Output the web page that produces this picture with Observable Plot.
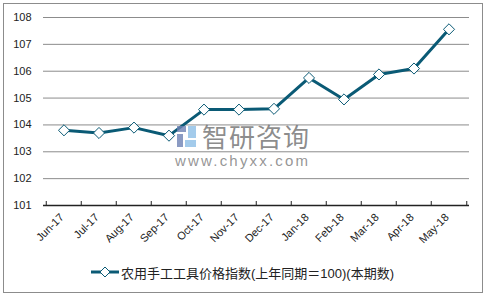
<!DOCTYPE html>
<html>
<head>
<meta charset="utf-8">
<script src="https://cdn.jsdelivr.net/npm/d3@7"></script>
<script src="https://cdn.jsdelivr.net/npm/@observablehq/plot@0.6"></script>
<style>
  html, body { margin: 0; padding: 0; background: #fff; }
  body { width: 487px; height: 297px; position: relative; overflow: hidden; font-family: "Liberation Sans", Arial, sans-serif; }
  #frame { position: absolute; left: 3px; top: 3px; width: 478px; height: 288px; border: 1px solid #8c8c8c; }
  #chart { position: absolute; left: 0; top: 0; }
  #legend { position: absolute; left: 91px; top: 263px; height: 18px; display: flex; align-items: center; font-family: "Liberation Sans", "Noto Sans CJK SC", sans-serif; font-size: 13px; color: #222; white-space: nowrap; }
  #legend svg { margin-right: 2px; }
  .wm1 { position: absolute; left: 202px; top: 123px; font-family: "Noto Sans CJK SC", sans-serif; font-size: 26px; line-height: 26px; color: rgba(120,120,120,0.85); letter-spacing: 1px; }
  .wm2 { position: absolute; left: 175px; top: 153px; font-family: "Liberation Sans", Arial, sans-serif; font-size: 15px; line-height: 15px; color: rgba(130,130,130,0.85); letter-spacing: 2.2px; }
  .logo { position: absolute; left: 177px; top: 126px; width: 20px; height: 22px; }
</style>
</head>
<body>
<div id="frame"></div>
<div id="chart"></div>
<div class="logo">
  <svg width="20" height="22"><rect x="0" y="0" width="9" height="6" fill="rgba(110,130,180,0.8)"/><rect x="11" y="0" width="8" height="12" fill="rgba(140,190,230,0.8)"/><rect x="0" y="8" width="6" height="13" fill="rgba(110,130,180,0.8)"/><rect x="8" y="14" width="11" height="7" fill="rgba(140,190,230,0.8)"/></svg>
</div>
<div class="wm1">智研咨询</div>
<div class="wm2">www.chyxx.com</div>
<div id="legend"></div>
<script>
const months = ["Jun-17","Jul-17","Aug-17","Sep-17","Oct-17","Nov-17","Dec-17","Jan-18","Feb-18","Mar-18","Apr-18","May-18"];
const values = [103.8, 103.7, 103.9, 103.6, 104.57, 104.57, 104.6, 105.75, 104.95, 105.88, 106.1, 107.56];
const yTicks = [101, 102, 103, 104, 105, 106, 107, 108];
const seriesName = "农用手工工具价格指数(上年同期＝100)(本期数)";

const lineColor = "#0a5a75";
const data = months.map((m, i) => ({month: m, value: values[i]}));

const W = 487, H = 255, mL = 43, mR = 18, mT = 17, mB = 50;
const bw = (W - mL - mR) / months.length;

const chart = Plot.plot({
  width: W,
  height: H,
  marginLeft: mL,
  marginRight: mR,
  marginTop: mT,
  marginBottom: mB,
  style: {fontFamily: "'Liberation Sans', Arial, sans-serif", fontSize: "11px", color: "#222", background: "transparent"},
  x: {type: "band", domain: months, padding: 0, label: null},
  y: {domain: [101, 108], label: null},
  marks: [
    Plot.ruleY(yTicks.filter(t => t > 101), {stroke: "#8c8c8c", strokeWidth: 1}),
    Plot.axisY(yTicks, {tickSize: 0, tickPadding: 12, fontSize: 11, fill: "#222"}),
    Plot.ruleY([101], {stroke: "#222", strokeWidth: 1.3}),
    Plot.tickX(months, {x: d => d, dx: -bw / 2, insetTop: H - mT - mB - 4, stroke: "#222", strokeWidth: 1}),
    Plot.tickX(months.slice(-1), {x: d => d, dx: bw / 2, insetTop: H - mT - mB - 4, stroke: "#222", strokeWidth: 1}),
    Plot.axisX({tickSize: 0, tickPadding: 10, tickRotate: -45, fontSize: 11, fill: "#222", dx: -2}),
    Plot.line(data, {x: "month", y: "value", stroke: lineColor, strokeWidth: 3}),
    Plot.dot(data, {x: "month", y: "value", symbol: "diamond2", r: 5, fill: "white", stroke: lineColor, strokeWidth: 1})
  ]
});
document.getElementById("chart").appendChild(chart);

const legend = document.getElementById("legend");
legend.innerHTML = `<svg width="28" height="12"><line x1="0" y1="6" x2="28" y2="6" stroke="${lineColor}" stroke-width="3"/><path d="M14,1 L19,6 L14,11 L9,6 Z" fill="white" stroke="${lineColor}" stroke-width="1"/></svg><span>${seriesName}</span>`;
</script>
</body>
</html>
